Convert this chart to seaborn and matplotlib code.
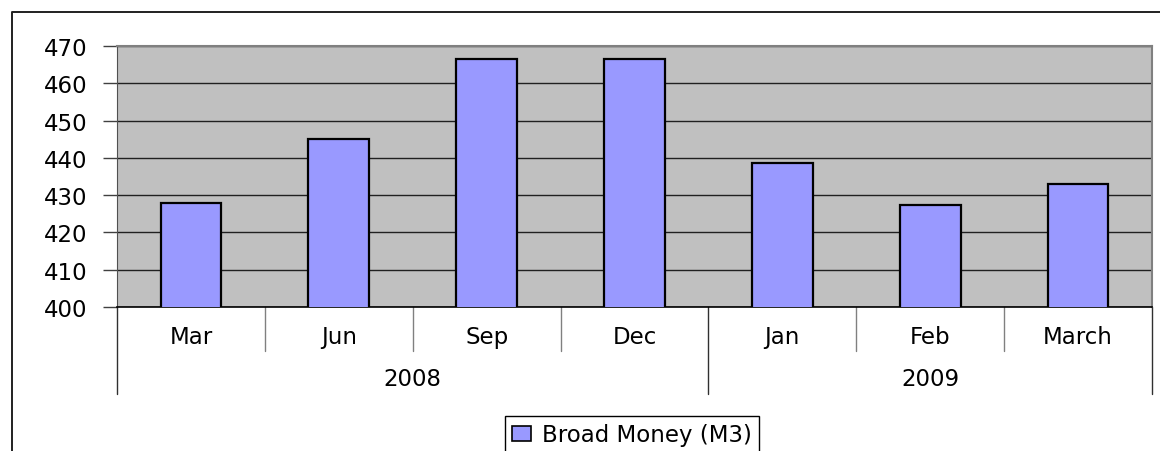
import matplotlib
matplotlib.use("Agg")
import matplotlib.pyplot as plt
import matplotlib.transforms as mtransforms
from matplotlib.patches import Patch
from matplotlib.lines import Line2D
import pandas as pd
import seaborn as sns

months = ["Mar", "Jun", "Sep", "Dec", "Jan", "Feb", "March"]
years = ["2008", "2008", "2008", "2008", "2009", "2009", "2009"]
broad_money = [428.0, 445.0, 466.6, 466.6, 438.7, 427.4, 432.9]
series_name = "Broad Money (M3)"
y_ticks = [400, 410, 420, 430, 440, 450, 460, 470]

data = pd.DataFrame({"month": months, "year": years, "value": broad_money})

sns.set_style("white")
plt.rcParams["font.family"] = ["DejaVu Sans"]
plt.rcParams["text.color"] = "black"
plt.rcParams["xtick.color"] = "black"
plt.rcParams["ytick.color"] = "black"
fs = 16.5

fig = plt.figure(figsize=(11.6, 4.52), dpi=100)
ax = fig.add_axes([117 / 1160, 1 - 308 / 452, (1152 - 117) / 1160, (308 - 47) / 452])
ax.set_facecolor("#C0C0C0")

sns.barplot(data=data, x="month", y="value", order=months, color="#9999FF",
            saturation=1, edgecolor="black", linewidth=1.6, width=0.41, ax=ax, zorder=3)

ax.set_ylim(400, 470)
ax.set_xlim(-0.5, len(months) - 0.5)
ax.set_yticks(y_ticks)
ax.set_yticklabels([str(t) for t in y_ticks], fontsize=fs)
ax.yaxis.grid(True, color="#202020", linewidth=1)
ax.set_axisbelow(True)
ax.set_xlabel("")
ax.set_ylabel("")
ax.tick_params(axis="y", length=10, width=1, color="#404040", labelcolor="black", pad=11, left=True)
ax.tick_params(axis="x", length=0, pad=13, labelsize=fs, labelcolor="black")

for side in ["top", "right"]:
    ax.spines[side].set_color("#808080")
    ax.spines[side].set_linewidth(1.5)
ax.spines["left"].set_color("#505050")
ax.spines["bottom"].set_color("black")
ax.spines["bottom"].set_linewidth(1.2)

# multi-level category axis
trans = mtransforms.blended_transform_factory(ax.transData, ax.transAxes)
short_y = -(352 - 308) / 261
long_y = -(395 - 308) / 261
for i in range(len(months) + 1):
    xb = i - 0.5
    if i == 0 or i == len(months) or years[i] != years[i - 1]:
        ax.plot([xb, xb], [0, long_y], transform=trans, color="#303030", lw=1, clip_on=False)
    else:
        ax.plot([xb, xb], [0, short_y], transform=trans, color="#808080", lw=1, clip_on=False)

year_y = -(380 - 308) / 261
for yr in pd.unique(data["year"]):
    idx = data.index[data["year"] == yr]
    ax.text((idx.min() + idx.max()) / 2, year_y, yr, transform=trans,
            ha="center", va="center", fontsize=fs, color="black")

# legend
handle = Patch(facecolor="#9999FF", edgecolor="black", linewidth=1.2, label=series_name)
leg = ax.legend(handles=[handle], loc="upper center", bbox_to_anchor=(632 / 1160, 1 - 417 / 452),
                bbox_transform=fig.transFigure, fontsize=fs, frameon=True, fancybox=False,
                framealpha=1, edgecolor="black", borderaxespad=0, handlelength=0.8,
                handleheight=0.6, handletextpad=0.5, borderpad=0.32)
leg.get_frame().set_linewidth(1)

# outer chart border (left and top visible)
bx = 12 / 1160
by = 1 - 13 / 452
fig.add_artist(Line2D([bx, bx, 1], [0, by, by], transform=fig.transFigure, color="#202020", lw=1.4))

fig.savefig("out.png", dpi=100, facecolor="white")
